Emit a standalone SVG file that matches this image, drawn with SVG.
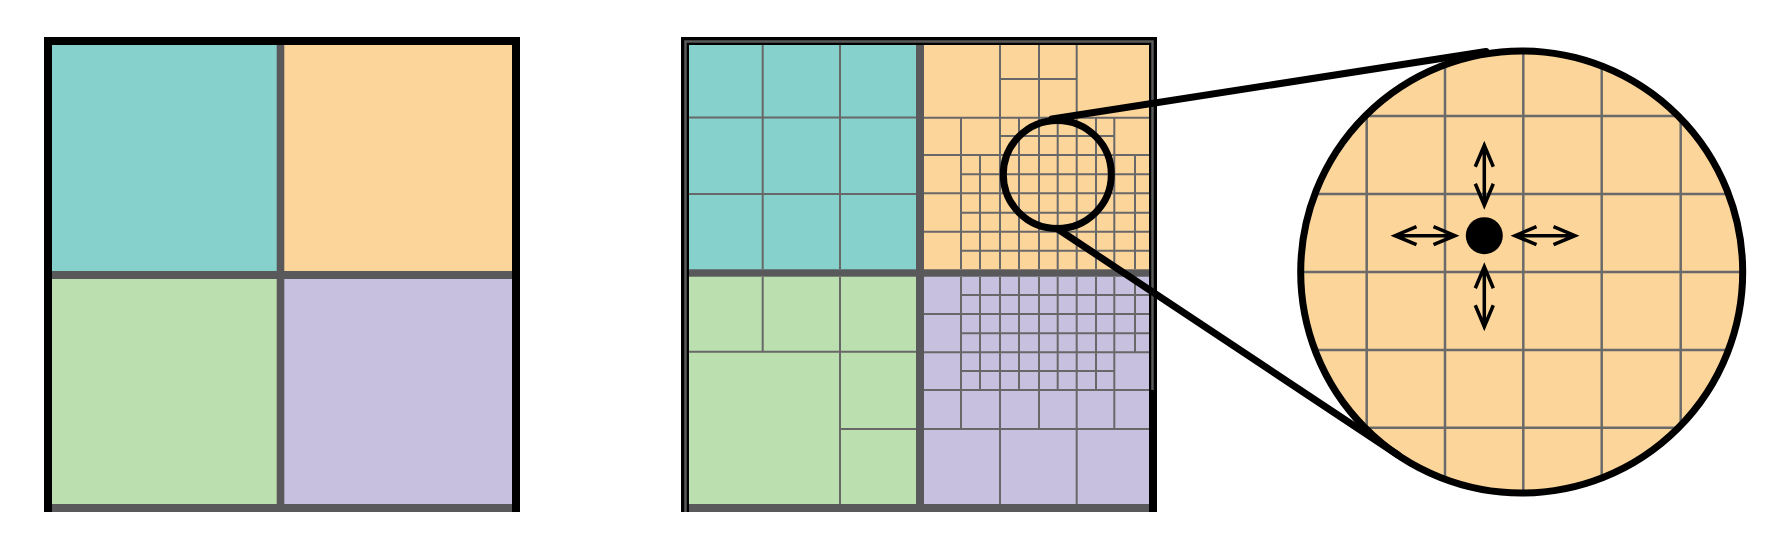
<svg xmlns="http://www.w3.org/2000/svg" width="1781" height="549" viewBox="0 0 1781 549">
<style>
.g{stroke:#686868;stroke-width:2;fill:none}
.dv{fill:#59595b}
.k{fill:#000}
.gl{stroke:#6a6a6a;stroke-width:2.5;fill:none}
.t{fill:#86d1cb}.o{fill:#fcd59a}.gr{fill:#bbdfaf}.p{fill:#c7c0de}
.ln{stroke:#000;stroke-width:7;fill:none;stroke-linecap:round}
.arr{stroke:#000;stroke-width:3.5;fill:none;stroke-linejoin:miter;stroke-miterlimit:10}
</style>
<defs>
<path id="dbl" d="M-30 0H30M-8.5 -9L-30 0L-8.5 9M8.5 -9L30 0L8.5 9"/>
<clipPath id="bigclip"><circle cx="1521.7" cy="272" r="221"/></clipPath>
</defs>
<rect width="1781" height="549" fill="#fff"/>

<g id="left-square">
<rect class="t" x="52" y="45" width="228" height="230"/>
<rect class="o" x="280" y="45" width="232" height="230"/>
<rect class="gr" x="52" y="275" width="228" height="229"/>
<rect class="p" x="280" y="275" width="232" height="229"/>
<rect class="dv" x="276.7" y="45" width="7.6" height="459"/>
<rect class="dv" x="52" y="271" width="460" height="8"/>
<rect class="dv" x="52" y="504" width="464" height="8"/>
<rect class="k" x="44" y="37" width="8" height="475"/>
<rect class="k" x="44" y="37" width="476" height="8"/>
<rect class="k" x="512" y="37" width="8" height="475"/>
</g>

<g id="middle-square">
<rect class="t" x="689" y="45" width="231" height="228"/>
<rect class="o" x="920" y="45" width="233" height="228"/>
<rect class="gr" x="689" y="273" width="231" height="231"/>
<rect class="p" x="920" y="273" width="233" height="231"/>
<path class="g" d="M762.7 45V269M840 45V269M686 117.5H916M686 194H916"/>
<path class="g" d="M686 351.7H916M762.7 277V351.7M840 277V504M840 429H916"/>
<path class="g" d="M1000 45V269M1039 45V269M1076.7 45V269M1000 79H1076.7M924 117.7H1153M961 117.7V269M1019 117.7V269M1057.7 117.7V269M1096 117.7V269M1114.3 117.7V269M1000 136H1114.3M924 155H1153M980 155V269M1135 155V269M961 174.3H1153M924 193.3H1153M961 212.7H1153M924 231.7H1153M961 250.7H1153"/>
<path class="g" d="M961 277V429M980 277V390M1000 277V504M1019 277V390M1039 277V429M1057.7 277V390M1076.7 277V504M1096 277V390M1114.3 277V429M1135 277V352.3M961 295H1153M924 314H1153M961 333.3H1153M924 352.3H1153M961 371H1114.3M924 390H1153M924 429H1153"/>
<rect class="dv" x="916" y="45" width="8" height="459"/>
<rect class="dv" x="689" y="269.3" width="464" height="7.4"/>
<rect class="dv" x="689" y="504" width="464" height="8"/>
<rect class="k" x="681" y="37" width="8" height="475"/>
<rect class="k" x="681" y="37" width="476" height="8"/>
<rect class="k" x="1149" y="37" width="8" height="475"/>
<path d="M685.5 512V41.5H1152.5V390" stroke="#5a5a5a" stroke-width="2.5" fill="none"/>
</g>

<g id="zoom-view">
<circle class="o" cx="1521.7" cy="272" r="221"/>
<g clip-path="url(#bigclip)">
<path class="gl" d="M1366.7 40V500M1445 40V500M1523.3 40V500M1601.7 40V500M1680.7 40V500M1290 116H1750M1290 194H1750M1290 272H1750M1290 350H1750M1290 427.7H1750"/>
</g>
<circle cx="1521.7" cy="272" r="221" fill="none" stroke="#000" stroke-width="7"/>
<circle cx="1484.3" cy="235.7" r="18.5" fill="#000"/>
<use href="#dbl" class="arr" transform="translate(1425 235.7)"/>
<use href="#dbl" class="arr" transform="translate(1545 235.7)"/>
<use href="#dbl" class="arr" transform="translate(1484.3 175.3) rotate(90)"/>
<use href="#dbl" class="arr" transform="translate(1484.3 296.7) rotate(90)"/>
</g>

<g id="magnifier">
<circle cx="1057.3" cy="174.5" r="54" fill="none" stroke="#000" stroke-width="7"/>
</g>

<g id="connectors">
<path class="ln" d="M1052 119L1486 51.5"/>
<path class="ln" d="M1057 228.5L1398 455"/>
</g>
</svg>
